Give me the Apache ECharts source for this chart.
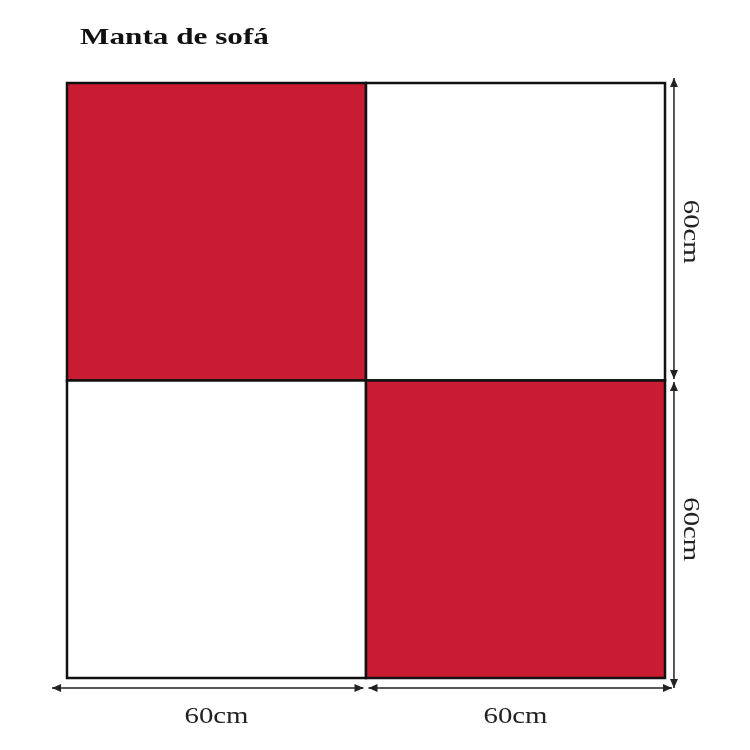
<!DOCTYPE html>
<html><head><meta charset="utf-8">
<script src="https://cdn.jsdelivr.net/npm/echarts@6/dist/echarts.min.js"></script>
<style>html,body{margin:0;background:#fff}#c{width:750px;height:750px}</style>
</head><body><div id="c"></div>
<script>
const title = 'Manta de sofá';
const cellX0 = [0, 60, 0, 60];
const cellY0 = [60, 60, 0, 0];
const cellColors = ['#c91b32', '#ffffff', '#ffffff', '#c91b32'];
const cellSize = 60;
const dimLabels = ['60cm', '60cm'];
const segCenters = [30, 90];
// dimension arrows: [x0, y0, x1, y1] in cm
const arrows = [[-3, -2, 59.5, -2], [60.5, -2, 121.4, -2], [121.8, 121, 121.8, 60.3], [121.8, 59.7, 121.8, -2]];

const chart = echarts.init(document.getElementById('c'));
const serif = '"Liberation Serif","DejaVu Serif",serif';
const cells = cellX0.map((x, i) => [x, cellY0[i], cellColors[i]]);
function head(x, y, ang) {
  const L = 9, W = 4;
  const c = Math.cos(ang), s = Math.sin(ang);
  return {type: 'polygon', shape: {points: [[x, y], [x - L * c + W * s, y - L * s - W * c], [x - L * c - W * s, y - L * s + W * c]]}, style: {fill: '#222'}};
}
chart.setOption({
  animation: false,
  graphic: [{type: 'text', x: 80, y: 38, scaleX: 1.3, style: {text: title, verticalAlign: 'middle', font: 'bold 24px ' + serif, fill: '#111'}}],
  grid: {left: 67, top: 83, width: 598, height: 595},
  xAxis: {type: 'value', min: 0, max: 120, show: false},
  yAxis: {type: 'value', min: 0, max: 120, show: false},
  series: [{
    type: 'custom', clip: false,
    data: cells,
    renderItem: (p, api) => {
      const a = api.coord([api.value(0), api.value(1) + cellSize]);
      const b = api.coord([api.value(0) + cellSize, api.value(1)]);
      return {type: 'rect', shape: {x: a[0], y: a[1], width: b[0] - a[0], height: b[1] - a[1]},
        style: {fill: cells[p.dataIndex][2], stroke: '#111', lineWidth: 2.5}};
    }
  }, {
    type: 'custom', clip: false,
    data: arrows,
    renderItem: (p, api) => {
      const a = api.coord([api.value(0), api.value(1)]);
      const b = api.coord([api.value(2), api.value(3)]);
      const ang = Math.atan2(b[1] - a[1], b[0] - a[0]);
      return {type: 'group', children: [
        {type: 'line', shape: {x1: a[0], y1: a[1], x2: b[0], y2: b[1]}, style: {stroke: '#222', lineWidth: 1.5}},
        head(b[0], b[1], ang), head(a[0], a[1], ang + Math.PI)
      ]};
    }
  }, {
    type: 'custom', clip: false,
    data: segCenters.map((c, i) => [c, dimLabels[i]]),
    renderItem: (p, api) => {
      const c = api.value(0);
      const pb = api.coord([c, -7.8]);
      const pr = api.coord([125, 120 - c]);
      const t = dimLabels[p.dataIndex];
      return {type: 'group', children: [
        {type: 'text', x: pb[0], y: pb[1], scaleX: 1.2, style: {text: t, align: 'center', verticalAlign: 'middle', font: '24px ' + serif, fill: '#222'}},
        {type: 'text', x: pr[0], y: pr[1], rotation: -Math.PI / 2, scaleX: 1.2, style: {text: t, align: 'center', verticalAlign: 'middle', font: '24px ' + serif, fill: '#222'}}
      ]};
    }
  }]
});
</script></body></html>
